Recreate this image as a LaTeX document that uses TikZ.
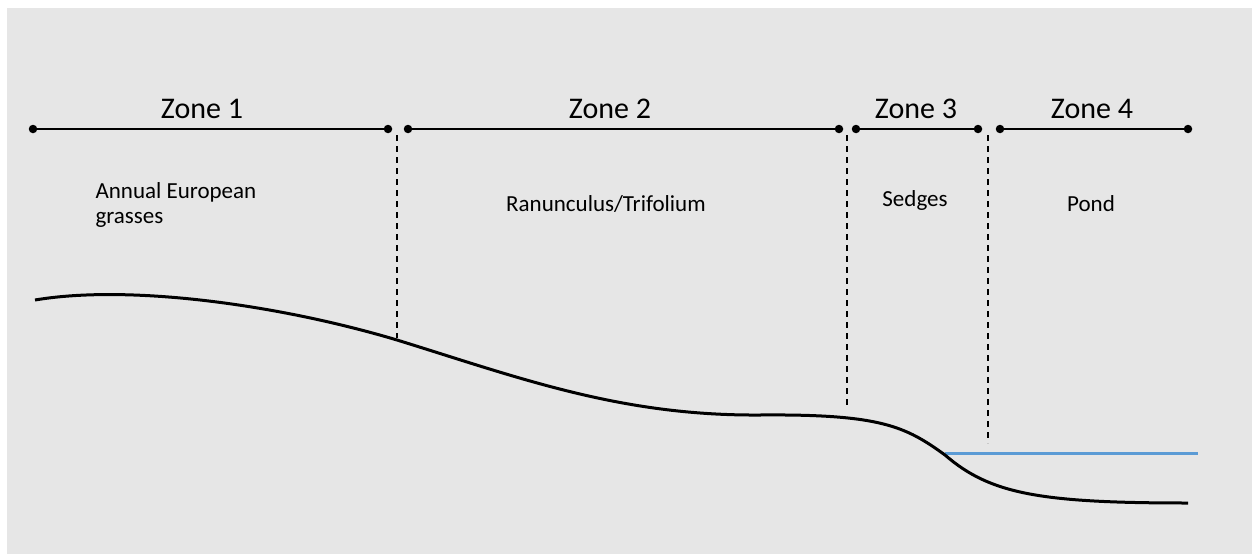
\documentclass[tikz,border=0pt]{standalone}
\usepackage{fontspec}
\setmainfont{Carlito}
\definecolor{bggray}{HTML}{E6E6E6}
\definecolor{waterblue}{HTML}{5B9BD5}
\begin{document}
\begin{tikzpicture}[x=1pt,y=-1pt,
  zoneline/.style={line width=2.2pt,black},
  zonedot/.style={circle,fill=black,inner sep=0pt,minimum size=8.5pt},
  divider/.style={line width=2pt,dash pattern=on 6pt off 5pt},
  zonelabel/.style={font=\fontsize{30}{34}\selectfont,anchor=base},
  plantlabel/.style={font=\fontsize{23}{25}\selectfont,align=left,anchor=base west},
  ground/.style={line width=3pt,black},
  water/.style={line width=3pt,waterblue}]
\useasboundingbox (0,0) rectangle (1253,554);
\fill[white] (0,0) rectangle (1253,554);
\fill[bggray] (7,8) rectangle (1252,554);
% zone endpoints
\node[zonedot] (z1a) at (33,129) {};
\node[zonedot] (z1b) at (388,129) {};
\node[zonedot] (z2a) at (408,129) {};
\node[zonedot] (z2b) at (839,129) {};
\node[zonedot] (z3a) at (856,129) {};
\node[zonedot] (z3b) at (978,129) {};
\node[zonedot] (z4a) at (1000,129) {};
\node[zonedot] (z4b) at (1188,129) {};
\draw[zoneline] (z1a.center) -- (z1b.center);
\draw[zoneline] (z2a.center) -- (z2b.center);
\draw[zoneline] (z3a.center) -- (z3b.center);
\draw[zoneline] (z4a.center) -- (z4b.center);
% zone labels
\node[zonelabel] (l1) at (202,118) {Zone 1};
\node[zonelabel] (l2) at (610,118) {Zone 2};
\node[zonelabel] (l3) at (916,118) {Zone 3};
\node[zonelabel] (l4) at (1092,118) {Zone 4};
% dividers
\coordinate (d1t) at (397,135); \coordinate (d1b) at (397,338);
\coordinate (d2t) at (847,135); \coordinate (d2b) at (847,408);
\coordinate (d3t) at (988,135); \coordinate (d3b) at (988,443);
\draw[divider] (d1t) -- (d1b);
\draw[divider] (d2t) -- (d2b);
\draw[divider] (d3t) -- (d3b);
% plant labels
\node[plantlabel] (p1) at (92,223) {Annual European\\grasses};
\node[plantlabel,anchor=base] (p2) at (606,211) {Ranunculus/Trifolium};
\node[plantlabel,anchor=base] (p3) at (915,206) {Sedges};
\node[plantlabel,anchor=base] (p4) at (1091,211) {Pond};
% water
\coordinate (w1) at (945,453); \coordinate (w2) at (1198,453);
\draw[water] (w1) -- (w2);
% ground profile
\coordinate (g0) at (35,300);
\coordinate (g1) at (397,340);
\coordinate (g2) at (760,415);
\coordinate (g3) at (945,455);
\coordinate (g4) at (1188,503);
\draw[ground,line cap=butt] (g0) .. controls (130,284) and (280,305) .. (g1)
  .. controls (520,378) and (620,416) .. (g2)
  .. controls (880,414) and (905,426) .. (g3)
  .. controls (990,494) and (1040,503) .. (g4);
\end{tikzpicture}
\end{document}
